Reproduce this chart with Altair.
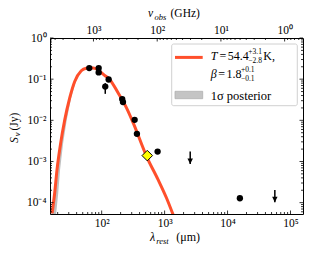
import altair as alt
import pandas as pd

# ---------------- data ----------------
# photometry (rest wavelength in micron, flux density in Jy)
lam_pts = [63.5, 89.6, 89.6, 129, 114, 212, 218, 334, 363, 774, 15700]
s_pts = [0.186, 0.186, 0.146, 0.098, 0.066, 0.0328, 0.0277, 0.0103, 0.0047, 0.00174, 1.28e-4]
# highlighted point (diamond)
lam_dia = [530]
s_dia = [0.00139]
# visible error bar
err_lam = [114]
err_hi = [0.080]
err_lo = [0.044]
# upper limits (arrow top and arrow tip)
ul_lam = [2550, 56400]
ul_top = [1.74e-3, 2.04e-4]
ul_bot = [8.7e-4, 1.02e-4]
# best-fit modified black body curve
fit_lam = [16.3, 17.9, 19.5, 22.3, 25.9, 31.0, 37.3, 47.4, 57, 68, 78, 88.4, 110, 135,
           183, 249, 318, 518, 791, 1076, 1371]
fit_s = [5.5e-5, 1.69e-4, 6.25e-4, 2.79e-3, 0.0103, 0.0347, 0.088, 0.16, 0.185, 0.19,
         0.183, 0.165, 0.125, 0.097, 0.0459, 0.0198, 0.00855, 0.00132, 3.57e-4, 1.28e-4, 5.0e-5]
# 1 sigma posterior band (visible on the Wien side)
band_s = [5.3e-5, 1.69e-4, 6.25e-4, 2.79e-3, 0.0103, 0.0347, 0.088, 0.16]
band_lo = [15.9, 17.5, 19.1, 21.9, 25.5, 30.6, 36.9, 47.0]
band_hi = [18.9, 20.4, 21.8, 24.4, 27.9, 32.7, 38.7, 48.3]

# axes
lam_domain = [15.1, 1.58e5]
s_domain = [5.3e-5, 1.0]
nu_domain = [0.515, 4810]
x_major = [100, 1000, 10000, 100000]
y_major = [1e-4, 1e-3, 1e-2, 1e-1, 1]
nu_major = [1, 10, 100, 1000]
x_minor = [k * 10 ** n for n in range(1, 6) for k in range(2, 10)
           if lam_domain[0] <= k * 10 ** n <= lam_domain[1]]
y_minor = [k * 10.0 ** n for n in range(-5, 0) for k in range(2, 10)
           if s_domain[0] <= k * 10.0 ** n <= s_domain[1]]
nu_minor = [k * 10.0 ** n for n in range(-1, 4) for k in range(2, 10)
            if nu_domain[0] <= k * 10.0 ** n <= nu_domain[1]]

W, H = 253, 176
SERIF = "Liberation Serif"
RED = "#ff4f2b"

xs = alt.Scale(type="log", domain=lam_domain, nice=False)
ys = alt.Scale(type="log", domain=s_domain, nice=False)
nus = alt.Scale(type="log", domain=nu_domain, nice=False, reverse=True)

sup = "'10' + (round(log(datum.value)/LN10) < 0 ? '⁻' : '') + ['⁰','¹','²','³','⁴','⁵'][abs(round(log(datum.value)/LN10))]"


def lab_axis(values, orient):
    return alt.Axis(values=values, orient=orient, ticks=False, domain=False, grid=False,
                    labelExpr=sup, labelFont=SERIF, labelFontSize=11.5, labelColor="black",
                    labelPadding=3 if orient != "left" else 4, labelFlush=False,
                    labelOverlap=False, title=None)


layers = []

# posterior band
band_df = pd.DataFrame({"s": band_s, "lo": band_lo, "hi": band_hi})
layers.append(alt.Chart(band_df).mark_area(orient="horizontal", color="#aaaaaa", opacity=0.75,
                                            clip=True).encode(
    y=alt.Y("s:Q", scale=ys, axis=None),
    x=alt.X("lo:Q", scale=xs, axis=None),
    x2="hi:Q"))

# fit curve (carries the bottom and left axes)
fit_df = pd.DataFrame({"lam": fit_lam, "s": fit_s})
layers.append(alt.Chart(fit_df).mark_line(color=RED, strokeWidth=3, clip=True,
                                          interpolate="monotone").encode(
    x=alt.X("lam:Q", scale=xs, axis=lab_axis(x_major, "bottom")),
    y=alt.Y("s:Q", scale=ys, axis=lab_axis(y_major, "left"))))

# error bar
err_df = pd.DataFrame({"lam": err_lam, "hi": err_hi, "lo": err_lo})
layers.append(alt.Chart(err_df).mark_rule(color="black", strokeWidth=1.5).encode(
    x=alt.X("lam:Q", scale=xs, axis=None),
    y=alt.Y("hi:Q", scale=ys, axis=None), y2="lo:Q"))

# upper limits
ul_df = pd.DataFrame({"lam": ul_lam, "top": ul_top, "bot": ul_bot})
layers.append(alt.Chart(ul_df).mark_rule(color="black", strokeWidth=1.5).encode(
    x=alt.X("lam:Q", scale=xs, axis=None),
    y=alt.Y("top:Q", scale=ys, axis=None), y2="bot:Q"))
layers.append(alt.Chart(ul_df).mark_point(shape="M-1,-2L0,0L1,-2Z", filled=True, color="black",
                                          opacity=1, size=30).encode(
    x=alt.X("lam:Q", scale=xs, axis=None),
    y=alt.Y("bot:Q", scale=ys, axis=None)))

# data points
pts_df = pd.DataFrame({"lam": lam_pts, "s": s_pts})
layers.append(alt.Chart(pts_df).mark_point(shape="circle", filled=True, color="black",
                                           opacity=1, size=40).encode(
    x=alt.X("lam:Q", scale=xs, axis=None),
    y=alt.Y("s:Q", scale=ys, axis=None)))

dia_df = pd.DataFrame({"lam": lam_dia, "s": s_dia})
layers.append(alt.Chart(dia_df).mark_point(shape="diamond", filled=True, fill="#ffff00",
                                           stroke="black", strokeWidth=1, opacity=1,
                                           size=110).encode(
    x=alt.X("lam:Q", scale=xs, axis=None),
    y=alt.Y("s:Q", scale=ys, axis=None)))


# ---------------- ticks (inward, matplotlib style) ----------------
def xticks(vals, scale, length, top=False, axis=None):
    df = pd.DataFrame({"v": vals})
    y0 = 0 if top else H
    y1 = length if top else H - length
    return alt.Chart(df).mark_rule(color="black", strokeWidth=0.8).encode(
        x=alt.X("v:Q", scale=scale, axis=axis),
        y=alt.value(y0), y2=alt.value(y1))


def yticks(vals, length, right=False):
    df = pd.DataFrame({"v": vals})
    x0 = W if right else 0
    x1 = W - length if right else length
    return alt.Chart(df).mark_rule(color="black", strokeWidth=0.8).encode(
        y=alt.Y("v:Q", scale=ys, axis=None),
        x=alt.value(x0), x2=alt.value(x1))


layers += [
    xticks(x_major, xs, 3.5), xticks(x_minor, xs, 2),
    xticks(nu_major, nus, 3.5, top=True, axis=lab_axis(nu_major, "top")),
    xticks(nu_minor, nus, 2, top=True),
    yticks(y_major, 3.5), yticks(y_minor, 2),
    yticks(y_major, 3.5, right=True), yticks(y_minor, 2, right=True),
]

# ---------------- legend ----------------
one = pd.DataFrame({"a": [0]})
layers.append(alt.Chart(one).mark_rect(fill="white", stroke="#cccccc", strokeWidth=1,
                                       cornerRadius=2, opacity=0.9).encode(
    x=alt.value(121.7), x2=alt.value(247.3), y=alt.value(6), y2=alt.value(67.7)))
layers.append(alt.Chart(one).mark_rule(color=RED, strokeWidth=3).encode(
    x=alt.value(125), x2=alt.value(152.7), y=alt.value(19.4)))
layers.append(alt.Chart(one).mark_rect(fill="#c4c4c4", stroke="#b0b0b0", strokeWidth=0.8).encode(
    x=alt.value(125), x2=alt.value(152.7), y=alt.value(53.3), y2=alt.value(60.7)))


def txt(s, x, y, size=11.5, italic=False, angle=0, baseline="middle"):
    return alt.Chart(one).mark_text(text=s, font=SERIF, fontSize=size, align="left",
                                    baseline=baseline, color="black", angle=angle,
                                    fontStyle="italic" if italic else "normal").encode(
        x=alt.value(x), y=alt.value(y))


layers += [
    txt("T", 160.7, 17.9, size=12, italic=True),
    txt("=", 169.5, 17.9, size=12),
    txt("54.4", 177.8, 17.9, size=12),
    txt("+3.1", 198.3, 14.0, size=7.5),
    txt("−2.8", 198.3, 22.6, size=7.5),
    txt("K,", 213.3, 17.9, size=12),
    txt("β", 160.7, 35.9, size=12, italic=True),
    txt("=", 168.3, 35.9, size=12),
    txt("1.8", 176.5, 35.9, size=12),
    txt("+0.1", 191.0, 32.0, size=7.5),
    txt("−0.1", 191.0, 40.6, size=7.5),
    txt("1σ posterior", 160.7, 57.7, size=12.5),
    # axis titles
    txt("λ", 100, 203.2, size=12, italic=True, baseline="alphabetic"),
    txt("rest", 106.3, 205.8, size=8.5, italic=True, baseline="alphabetic"),
    txt("(μm)", 126.2, 203.2, size=12, baseline="alphabetic"),
    txt("ν", 98, -29.6, size=11.5, italic=True, baseline="top"),
    txt("obs", 104.4, -24.8, size=8.5, italic=True, baseline="top"),
    txt("(GHz)", 120.5, -29.6, size=11.5, baseline="top"),
    txt("S", -41.5, 105, size=11.5, italic=True, angle=270, baseline="top"),
    txt("ν", -36.6, 98.2, size=8.5, italic=True, angle=270, baseline="top"),
    txt("(Jy)", -41.5, 92.5, size=11.5, angle=270, baseline="top"),
]

chart = alt.layer(*layers).resolve_scale(x="independent", y="independent").properties(
    width=W, height=H,
    autosize=alt.AutoSizeParams(type="none"),
    padding={"left": 42, "top": 30, "right": 5, "bottom": 40},
).configure_view(stroke="black", strokeWidth=1)

chart.save("out.html", embed_options={"renderer": "svg", "actions": False})
